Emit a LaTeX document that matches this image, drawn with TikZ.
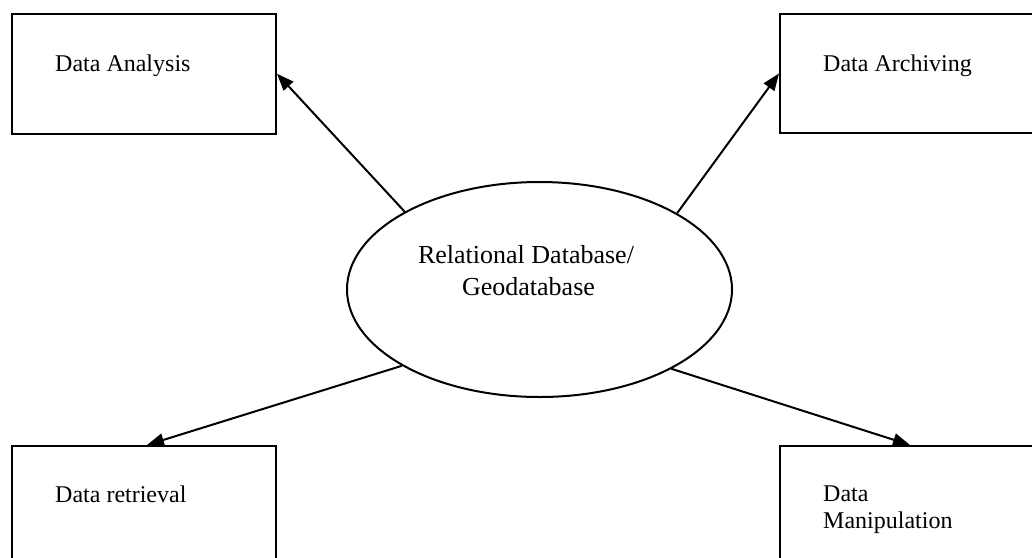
\documentclass[tikz,border=0pt]{standalone}
\usepackage{fontspec}
\setmainfont{Liberation Serif}
\usetikzlibrary{shapes.geometric,arrows.meta}
\begin{document}
\begin{tikzpicture}[x=1pt,y=-1pt,
  box/.style={draw,line width=2pt,rectangle,inner sep=0pt},
  hub/.style={draw,line width=2pt,ellipse,inner sep=0pt,minimum width=385pt,minimum height=215pt},
  boxtext/.style={inner sep=0pt,anchor=base west,font=\fontsize{24}{28}\selectfont},
  hubtext/.style={inner sep=0pt,anchor=base,font=\fontsize{26}{32}\selectfont},
  arr/.style={line width=2pt,-{Triangle[length=17pt,width=13pt]}}]
\useasboundingbox (0,0) rectangle (1032,557);
\fill[white] (0,0) rectangle (1032,557);
\clip (0,0) rectangle (1032,557);

% the four surrounding boxes
\node[box,minimum width=264pt,minimum height=119.5pt] (ana) at (144,73.75) {};
\node[box,minimum width=260pt,minimum height=119pt] (arch) at (910,73.5) {};
\node[box,minimum width=264pt,minimum height=120pt] (ret) at (144,506) {};
\node[box,minimum width=260pt,minimum height=120pt] (man) at (910,506) {};

\node[boxtext] (anat) at (55,71) {Data Analysis};
\node[boxtext] (archt) at (823,71) {Data Archiving};
\node[boxtext] (rett) at (55,502) {Data retrieval};
\node[boxtext] (mant1) at (823,501) {Data};
\node[boxtext] (mant2) at (823,528.5) {Manipulation};

% central database
\node[hub] (db) at (539.5,289.5) {};
\node[hubtext] (dbt1) at (526,263) {Relational Database/};
\node[hubtext] (dbt2) at (528.5,295) {Geodatabase};

% connectors
\draw[arr] (db.150.7) -- (ana.east);
\draw[arr] (db.29.1) -- (arch.west);
\draw[arr] (db.209.6) -- ([xshift=3pt]ret.north);
\draw[arr] (db.-31.4) -- (man.north);
\end{tikzpicture}
\end{document}
